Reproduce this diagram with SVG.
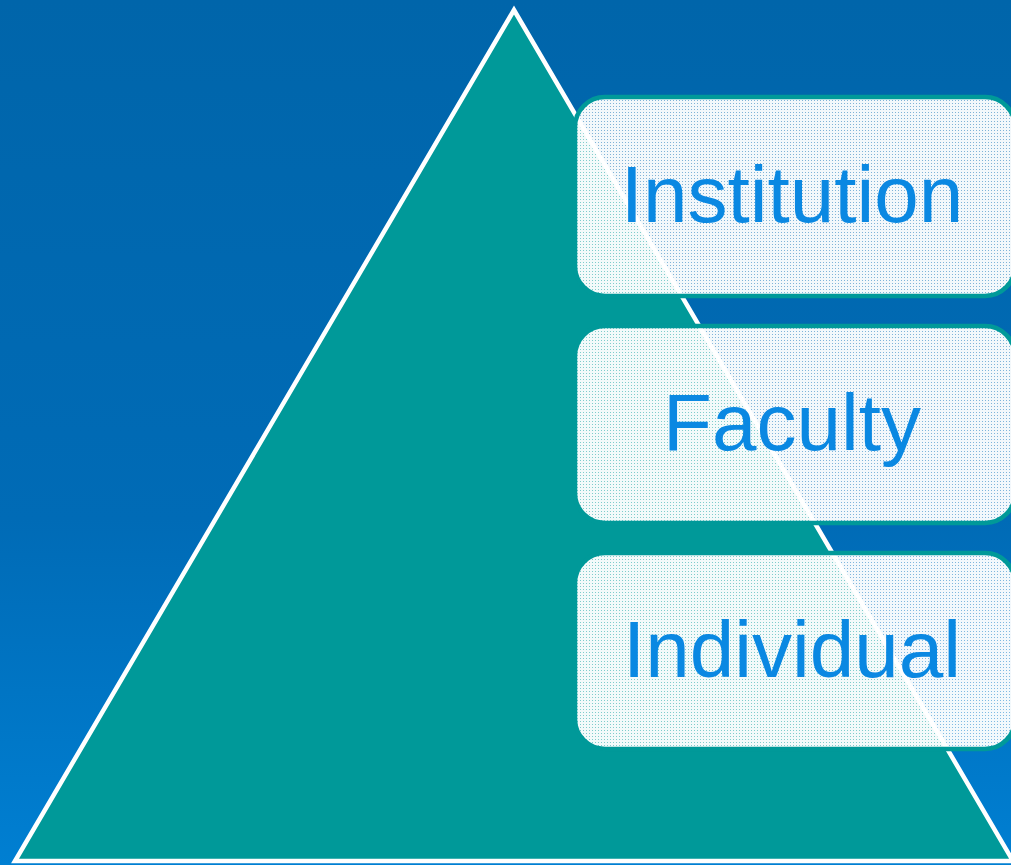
<svg xmlns="http://www.w3.org/2000/svg" width="1011" height="865" viewBox="0 0 1011 865">
<defs>
<linearGradient id="bg" x1="0" y1="0" x2="0" y2="1">
<stop offset="0" stop-color="#0065aa"/>
<stop offset="0.6" stop-color="#006bb6"/>
<stop offset="1" stop-color="#007fd2"/>
</linearGradient>
<pattern id="dots" width="3" height="3" patternUnits="userSpaceOnUse">
<rect x="0" y="0" width="3" height="3" fill="#ffffff" fill-opacity="0.5"/>
<path d="M0 0h3v3h-3z M1 1h1v1h-1z" fill="#ffffff" fill-rule="evenodd" fill-opacity="0.9"/>
</pattern>
<style>
.box{fill:url(#dots);stroke:#009999;stroke-width:4.5}
.lbl{font-family:"Liberation Sans",Arial,sans-serif;font-size:80px;fill:#0a88e2;text-anchor:middle}
</style>
</defs>
<rect x="0" y="0" width="1011" height="865" fill="url(#bg)"/>
<g id="pyramid">
<polygon points="514,10 15,861 1013,861" fill="#009999" stroke="#ffffff" stroke-width="4.5" stroke-linejoin="miter"/>
</g>
<g id="connectors"/>
<g id="institution">
<rect class="box" x="575" y="97" width="440" height="199" rx="30" ry="30"/>
<text class="lbl" x="792" y="222">Institution</text>
</g>
<g id="faculty">
<rect class="box" x="575" y="326" width="440" height="197" rx="30" ry="30"/>
<text class="lbl" x="792" y="450">Faculty</text>
</g>
<g id="individual">
<rect class="box" x="575" y="553" width="440" height="196" rx="30" ry="30"/>
<text class="lbl" x="792" y="677">Individual</text>
</g>
</svg>
